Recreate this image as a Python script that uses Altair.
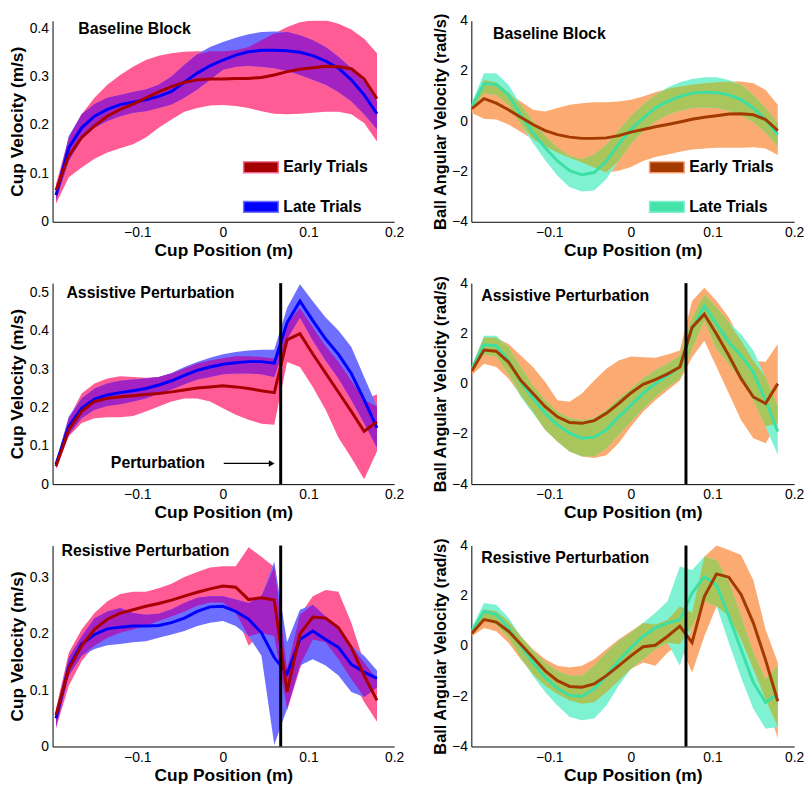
import altair as alt
import pandas as pd

FONT = "Liberation Sans"

# shared cup-position grid (m)
X = [-0.195, -0.18, -0.165, -0.15, -0.135, -0.12, -0.105, -0.09, -0.075, -0.06,
     -0.045, -0.03, -0.015, 0.0, 0.015, 0.03, 0.045, 0.06, 0.075, 0.09,
     0.105, 0.12, 0.135, 0.15, 0.165, 0.18]
XTICKS = [-0.1, 0, 0.1, 0.2]
PERT_X = 0.0675

# ---- Baseline block, cup velocity ----
tl_e_m = [0.065, 0.136, 0.174, 0.198, 0.218, 0.232, 0.243, 0.256, 0.268, 0.279, 0.288, 0.293, 0.295, 0.295, 0.296, 0.296, 0.298, 0.303, 0.310, 0.315, 0.318, 0.321, 0.320, 0.316, 0.295, 0.254]
tl_e_hi = [0.078, 0.174, 0.222, 0.256, 0.283, 0.303, 0.320, 0.334, 0.343, 0.348, 0.351, 0.352, 0.352, 0.352, 0.354, 0.361, 0.375, 0.389, 0.402, 0.412, 0.416, 0.416, 0.409, 0.397, 0.378, 0.348]
tl_e_lo = [0.037, 0.092, 0.112, 0.130, 0.143, 0.152, 0.160, 0.174, 0.194, 0.211, 0.227, 0.235, 0.240, 0.241, 0.239, 0.235, 0.228, 0.223, 0.222, 0.223, 0.225, 0.227, 0.227, 0.222, 0.204, 0.166]
tl_l_m = [0.055, 0.153, 0.194, 0.218, 0.232, 0.242, 0.247, 0.252, 0.259, 0.269, 0.288, 0.307, 0.322, 0.334, 0.344, 0.351, 0.354, 0.354, 0.353, 0.350, 0.343, 0.332, 0.317, 0.293, 0.262, 0.223]
tl_l_hi = [0.065, 0.177, 0.222, 0.243, 0.256, 0.262, 0.268, 0.273, 0.283, 0.300, 0.324, 0.346, 0.361, 0.371, 0.380, 0.387, 0.392, 0.393, 0.392, 0.385, 0.375, 0.361, 0.341, 0.317, 0.290, 0.249]
tl_l_lo = [0.044, 0.126, 0.170, 0.194, 0.208, 0.218, 0.225, 0.228, 0.235, 0.242, 0.256, 0.273, 0.293, 0.314, 0.320, 0.322, 0.320, 0.317, 0.312, 0.303, 0.293, 0.283, 0.268, 0.249, 0.222, 0.191]

# ---- Baseline block, ball angular velocity ----
tr_e_m = [0.5, 0.9, 0.72, 0.46, 0.16, -0.13, -0.37, -0.53, -0.63, -0.68, -0.68, -0.66, -0.57, -0.43, -0.33, -0.22, -0.13, -0.03, 0.08, 0.16, 0.22, 0.29, 0.30, 0.26, 0.07, -0.37]
tr_e_hi = [0.66, 1.64, 1.55, 1.16, 0.79, 0.46, 0.39, 0.53, 0.66, 0.72, 0.76, 0.76, 0.79, 0.86, 0.99, 1.16, 1.29, 1.38, 1.45, 1.51, 1.55, 1.58, 1.58, 1.51, 1.25, 0.66]
tr_e_lo = [0.33, 0.10, 0.07, -0.13, -0.42, -0.72, -0.99, -1.25, -1.45, -1.64, -1.84, -2.04, -1.97, -1.82, -1.58, -1.42, -1.32, -1.21, -1.12, -1.08, -1.05, -1.05, -1.05, -1.03, -1.08, -1.34]
tr_l_m = [0.6, 1.5, 1.47, 1.05, 0.26, -0.46, -1.05, -1.58, -1.97, -2.13, -2.04, -1.58, -0.92, -0.33, 0.13, 0.53, 0.79, 0.99, 1.12, 1.16, 1.14, 1.05, 0.86, 0.53, 0.07, -0.53]
tr_l_hi = [0.72, 1.91, 1.91, 1.45, 0.66, 0.0, -0.59, -1.05, -1.38, -1.51, -1.32, -0.92, -0.37, 0.2, 0.66, 1.05, 1.34, 1.55, 1.68, 1.75, 1.75, 1.64, 1.45, 1.05, 0.53, -0.07]
tr_l_lo = [0.46, 1.12, 1.05, 0.66, -0.11, -0.86, -1.55, -2.17, -2.63, -2.8, -2.76, -2.3, -1.58, -0.89, -0.39, 0.0, 0.26, 0.42, 0.53, 0.55, 0.53, 0.42, 0.24, -0.03, -0.46, -0.99]

# ---- Assistive perturbation, cup velocity ----
ml_e_m = [0.047, 0.142, 0.190, 0.216, 0.224, 0.228, 0.231, 0.234, 0.237, 0.241, 0.246, 0.251, 0.254, 0.257, 0.254, 0.250, 0.244, 0.239, 0.377, 0.393, 0.340, 0.290, 0.240, 0.190, 0.138, 0.163]
ml_e_hi = [0.056, 0.172, 0.237, 0.263, 0.276, 0.282, 0.280, 0.278, 0.280, 0.289, 0.302, 0.315, 0.323, 0.329, 0.334, 0.334, 0.332, 0.328, 0.420, 0.460, 0.410, 0.360, 0.320, 0.270, 0.220, 0.235]
ml_e_lo = [0.039, 0.125, 0.160, 0.172, 0.175, 0.175, 0.178, 0.190, 0.203, 0.216, 0.224, 0.224, 0.216, 0.198, 0.181, 0.168, 0.158, 0.155, 0.319, 0.306, 0.254, 0.194, 0.121, 0.069, 0.013, 0.086]
ml_l_m = [0.052, 0.151, 0.198, 0.222, 0.233, 0.239, 0.244, 0.250, 0.259, 0.270, 0.284, 0.297, 0.306, 0.313, 0.317, 0.320, 0.320, 0.316, 0.422, 0.478, 0.427, 0.379, 0.339, 0.289, 0.220, 0.147]
ml_l_hi = [0.060, 0.177, 0.224, 0.250, 0.263, 0.270, 0.273, 0.276, 0.280, 0.290, 0.306, 0.319, 0.330, 0.339, 0.345, 0.349, 0.351, 0.351, 0.461, 0.522, 0.478, 0.435, 0.401, 0.358, 0.280, 0.203]
ml_l_lo = [0.043, 0.129, 0.172, 0.194, 0.204, 0.209, 0.216, 0.224, 0.237, 0.247, 0.261, 0.273, 0.280, 0.287, 0.289, 0.289, 0.287, 0.280, 0.379, 0.435, 0.375, 0.323, 0.276, 0.220, 0.159, 0.095]

# ---- Assistive perturbation, ball angular velocity ----
mr_e_m = [0.5, 1.34, 1.29, 0.86, 0.13, -0.39, -0.92, -1.32, -1.55, -1.58, -1.47, -1.18, -0.79, -0.37, -0.03, 0.16, 0.39, 0.66, 2.24, 2.76, 1.97, 1.12, 0.2, -0.53, -0.79, 0.0]
mr_e_hi = [0.66, 1.84, 1.84, 1.58, 1.12, 0.66, 0.07, -0.66, -0.72, -0.39, 0.13, 0.59, 0.92, 1.08, 1.05, 1.03, 1.16, 1.32, 3.29, 3.82, 3.29, 2.63, 1.71, 0.92, 0.86, 1.58]
mr_e_lo = [0.33, 0.79, 0.66, 0.2, -0.46, -1.12, -1.84, -2.3, -2.7, -2.9, -2.96, -2.85, -2.37, -1.71, -1.12, -0.66, -0.26, 0.13, 1.05, 1.71, 0.66, -0.39, -1.45, -2.17, -2.37, -1.58]
mr_l_m = [0.6, 1.55, 1.51, 0.92, 0.07, -0.59, -1.18, -1.64, -1.97, -2.17, -2.13, -1.84, -1.32, -0.86, -0.39, 0.0, 0.33, 0.66, 2.17, 3.09, 2.37, 1.64, 1.12, 0.46, -0.66, -1.91]
mr_l_hi = [0.68, 1.91, 1.91, 1.45, 0.66, -0.07, -0.66, -1.12, -1.38, -1.47, -1.38, -1.05, -0.59, -0.2, 0.2, 0.53, 0.79, 1.12, 2.63, 3.55, 3.03, 2.43, 1.97, 1.32, 0.26, -0.92]
mr_l_lo = [0.5, 1.16, 1.08, 0.39, -0.53, -1.18, -1.84, -2.3, -2.7, -2.89, -2.89, -2.57, -2.04, -1.51, -0.99, -0.53, -0.13, 0.2, 1.38, 2.5, 1.38, 0.79, 0.13, -0.66, -1.71, -2.83]

# ---- Resistive perturbation, cup velocity ----
bl_e_m = [0.056, 0.138, 0.179, 0.208, 0.226, 0.237, 0.243, 0.249, 0.254, 0.260, 0.267, 0.274, 0.280, 0.285, 0.283, 0.261, 0.264, 0.260, 0.097, 0.200, 0.230, 0.228, 0.211, 0.176, 0.126, 0.082]
bl_e_hi = [0.067, 0.167, 0.208, 0.237, 0.258, 0.271, 0.275, 0.275, 0.281, 0.289, 0.301, 0.310, 0.318, 0.320, 0.320, 0.354, 0.337, 0.319, 0.138, 0.234, 0.267, 0.278, 0.275, 0.220, 0.149, 0.120]
bl_e_lo = [0.032, 0.108, 0.152, 0.179, 0.193, 0.202, 0.208, 0.215, 0.223, 0.231, 0.240, 0.250, 0.256, 0.256, 0.237, 0.179, 0.202, 0.196, 0.064, 0.138, 0.190, 0.185, 0.155, 0.120, 0.079, 0.044]
bl_l_m = [0.050, 0.141, 0.182, 0.199, 0.209, 0.212, 0.214, 0.214, 0.215, 0.220, 0.228, 0.240, 0.248, 0.249, 0.240, 0.226, 0.202, 0.158, 0.129, 0.190, 0.205, 0.190, 0.176, 0.146, 0.132, 0.121]
bl_l_hi = [0.059, 0.158, 0.196, 0.228, 0.240, 0.246, 0.237, 0.234, 0.236, 0.244, 0.255, 0.264, 0.267, 0.267, 0.261, 0.255, 0.267, 0.328, 0.185, 0.243, 0.252, 0.231, 0.214, 0.179, 0.161, 0.135]
bl_l_lo = [0.035, 0.126, 0.161, 0.173, 0.180, 0.182, 0.185, 0.187, 0.193, 0.199, 0.205, 0.214, 0.220, 0.223, 0.214, 0.196, 0.161, 0.003, 0.067, 0.144, 0.155, 0.144, 0.126, 0.097, 0.088, 0.105]

# ---- Resistive perturbation, ball angular velocity ----
br_e_m = [0.5, 1.05, 0.95, 0.59, 0.07, -0.46, -0.99, -1.38, -1.61, -1.64, -1.51, -1.18, -0.79, -0.39, -0.03, 0.03, 0.39, 0.79, 0.13, 1.97, 2.87, 2.74, 2.05, 0.92, -0.55, -2.2]
br_e_hi = [0.68, 1.45, 1.38, 0.99, 0.39, -0.13, -0.53, -0.79, -0.86, -0.79, -0.53, -0.13, 0.26, 0.59, 0.92, 0.86, 1.05, 1.58, 1.32, 3.55, 4.0, 3.82, 3.62, 2.63, 0.66, -0.66]
br_e_lo = [0.39, 0.72, 0.59, 0.13, -0.53, -1.12, -1.58, -1.91, -2.17, -2.3, -2.24, -1.84, -1.38, -0.92, -0.66, -0.79, -0.26, 0.07, -1.05, 0.39, 1.58, 1.18, 0.26, -0.92, -2.11, -3.68]
br_l_m = [0.6, 1.38, 1.25, 0.72, 0.0, -0.66, -1.25, -1.68, -1.97, -2.0, -1.71, -1.18, -0.59, -0.07, 0.39, 0.72, 0.92, 1.05, 2.11, 2.76, 2.43, 1.18, -0.13, -1.45, -2.24, -1.91]
br_l_hi = [0.72, 1.71, 1.64, 1.12, 0.39, -0.2, -0.66, -0.99, -1.18, -1.18, -0.79, -0.26, 0.2, 0.53, 0.92, 1.32, 1.78, 3.16, 3.03, 3.55, 3.42, 2.57, 1.18, -0.26, -1.32, -0.79]
br_l_lo = [0.46, 1.05, 0.86, 0.33, -0.46, -1.18, -1.84, -2.37, -2.83, -2.96, -2.89, -2.37, -1.58, -0.92, -0.53, -0.13, 0.13, -0.79, 0.79, 1.78, 1.58, 0.13, -1.25, -2.5, -3.29, -3.22]

LEFT_PAL = dict(be="#FF5C96", bl="#6E6EFF", bo="#A223C2", le="#A80000", ll="#0000FF",
                se="#A50000", ss_e="#F06A90", sl="#0000FF", ss_l="#7070FF")
RIGHT_PAL = dict(be="#FBAA72", bl="#80F2D4", bo="#A9C65C", le="#A33A00", ll="#3DDFA3",
                 se="#A33A00", ss_e="#F5A070", sl="#45E3A8", ss_l="#80F0D0")

ONE = pd.DataFrame({"a": [0]})
W_LEFT, W_RIGHT, H = 345, 326, 203


def panel(cols, xdom, ydom, yticks, ytitle, ytitle_size, pal, width, label,
          label_xy, legend_x=None, pert=False, arrow=None):
    e_m, e_lo, e_hi, l_m, l_lo, l_hi = cols
    o_lo = [max(a, b) for a, b in zip(e_lo, l_lo)]
    o_hi = [max(min(a, b), lo) for a, b, lo in zip(e_hi, l_hi, o_lo)]
    df = pd.DataFrame(dict(x=X, e_m=e_m, e_lo=e_lo, e_hi=e_hi, l_m=l_m,
                           l_lo=l_lo, l_hi=l_hi, o_lo=o_lo, o_hi=o_hi))
    xscale = alt.Scale(domain=list(xdom), nice=False, zero=False)
    yscale = alt.Scale(domain=list(ydom), nice=False, zero=False)
    xaxis = alt.Axis(values=XTICKS, format="~g", title="Cup Position (m)", labelFlush=False,
                     titlePadding=2)
    yaxis = alt.Axis(values=yticks, format="~g", title=ytitle, titleFontSize=ytitle_size,
                     titlePadding=3)

    def xe(f="x"):
        return alt.X(f + ":Q", scale=xscale, axis=xaxis)

    def ye(f):
        return alt.Y(f + ":Q", scale=yscale, axis=yaxis)

    base = alt.Chart(df)
    layers = [
        base.mark_area(color=pal["be"], opacity=1, clip=True).encode(x=xe(), y=ye("e_lo"), y2="e_hi:Q"),
        base.mark_area(color=pal["bl"], opacity=1, clip=True).encode(x=xe(), y=ye("l_lo"), y2="l_hi:Q"),
        base.mark_area(color=pal["bo"], opacity=1, clip=True).encode(x=xe(), y=ye("o_lo"), y2="o_hi:Q"),
        base.mark_line(color=pal["ll"], strokeWidth=3, clip=True).encode(x=xe(), y=ye("l_m")),
        base.mark_line(color=pal["le"], strokeWidth=3, clip=True).encode(x=xe(), y=ye("e_m")),
    ]
    if pert:
        layers.append(alt.Chart(ONE).mark_rule(color="black", strokeWidth=3).encode(
            x=alt.datum(PERT_X, scale=xscale, axis=xaxis)))
    if arrow is not None:
        ax0, ax1, ay, tx = arrow
        layers.append(alt.Chart(ONE).mark_rule(color="black", strokeWidth=1.2).encode(
            x=alt.datum(ax0, scale=xscale, axis=xaxis), x2=alt.datum(ax1),
            y=alt.datum(ay, scale=yscale, axis=yaxis)))
        layers.append(alt.Chart(ONE).mark_point(shape="triangle-right", filled=True, color="black",
                                                 opacity=1, size=45).encode(
            x=alt.datum(ax1 + 0.002, scale=xscale, axis=xaxis),
            y=alt.datum(ay, scale=yscale, axis=yaxis)))
        layers.append(alt.Chart(ONE).mark_text(text="Perturbation", align="right", baseline="middle",
                                                font=FONT, fontSize=16, fontWeight="bold",
                                                color="black").encode(
            x=alt.datum(tx, scale=xscale, axis=xaxis),
            y=alt.datum(ay, scale=yscale, axis=yaxis)))
    layers.append(alt.Chart(ONE).mark_text(text=label, align="left", baseline="middle", font=FONT,
                                           fontSize=16, fontWeight="bold", color="black").encode(
        x=alt.value(label_xy[0]), y=alt.value(label_xy[1])))
    if legend_x is not None:
        entries = [("Early Trials", pal["se"], pal["ss_e"], 148),
                   ("Late Trials", pal["sl"], pal["ss_l"], 188)]
        for name, fill, stroke, yc in entries:
            layers.append(alt.Chart(ONE).mark_rect(fill=fill, stroke=stroke, strokeWidth=1.5).encode(
                x=alt.value(legend_x), x2=alt.value(legend_x + 35),
                y=alt.value(yc - 5.5), y2=alt.value(yc + 5.5)))
            layers.append(alt.Chart(ONE).mark_text(text=name, align="left", baseline="middle",
                                                   font=FONT, fontSize=16, fontWeight="bold",
                                                   color="black").encode(
                x=alt.value(legend_x + 40), y=alt.value(yc)))
    return alt.layer(*layers).properties(width=width, height=H)


LX = (-0.199, 0.2)
RX = (-0.1955, 0.2)
RT = [-4, -2, 0, 2, 4]
RTITLE = "Ball Angular Velocity (rad/s)"
LTITLE = "Cup Velocity (m/s)"

tl = panel((tl_e_m, tl_e_lo, tl_e_hi, tl_l_m, tl_l_lo, tl_l_hi), LX, (0, 0.415),
           [0, 0.1, 0.2, 0.3, 0.4], LTITLE, 17.5, LEFT_PAL, W_LEFT, "Baseline Block", (26, 8),
           legend_x=193)
tr = panel((tr_e_m, tr_e_lo, tr_e_hi, tr_l_m, tr_l_lo, tr_l_hi), RX, (-4, 4), RT, RTITLE, 16.5,
           RIGHT_PAL, W_RIGHT, "Baseline Block", (22, 13), legend_x=180)
ml = panel((ml_e_m, ml_e_lo, ml_e_hi, ml_l_m, ml_l_lo, ml_l_hi), LX, (0, 0.525),
           [0, 0.1, 0.2, 0.3, 0.4, 0.5], LTITLE, 17.5, LEFT_PAL, W_LEFT, "Assistive Perturbation",
           (14, 10), pert=True, arrow=(0.001, 0.055, 0.054, -0.021))
mr = panel((mr_e_m, mr_e_lo, mr_e_hi, mr_l_m, mr_l_lo, mr_l_hi), RX, (-4, 4), RT, RTITLE, 16.5,
           RIGHT_PAL, W_RIGHT, "Assistive Perturbation", (10, 13), pert=True)
bl = panel((bl_e_m, bl_e_lo, bl_e_hi, bl_l_m, bl_l_lo, bl_l_hi), LX, (0, 0.357),
           [0, 0.1, 0.2, 0.3], LTITLE, 17.5, LEFT_PAL, W_LEFT, "Resistive Perturbation",
           (9, 6), pert=True)
br = panel((br_e_m, br_e_lo, br_e_hi, br_l_m, br_l_lo, br_l_hi), RX, (-4, 4), RT, RTITLE, 16.5,
           RIGHT_PAL, W_RIGHT, "Resistive Perturbation", (10, 13), pert=True)

chart = alt.concat(tl, tr, ml, mr, bl, br, columns=2,
                   spacing=alt.RowColnumber(row=62, column=78), bounds="flush").properties(
    padding={"left": 0, "top": 0, "right": 0, "bottom": 0}
).configure_view(stroke=None).configure_axis(
    labelFont=FONT, labelFontSize=14, labelColor="black",
    titleFont=FONT, titleFontSize=17.5, titleFontWeight="bold", titleColor="black",
    domainColor="black", domainWidth=1, ticks=False, grid=False,
    labelPadding=4,
)

chart.save("out.html", embed_options={"renderer": "svg", "actions": False})
